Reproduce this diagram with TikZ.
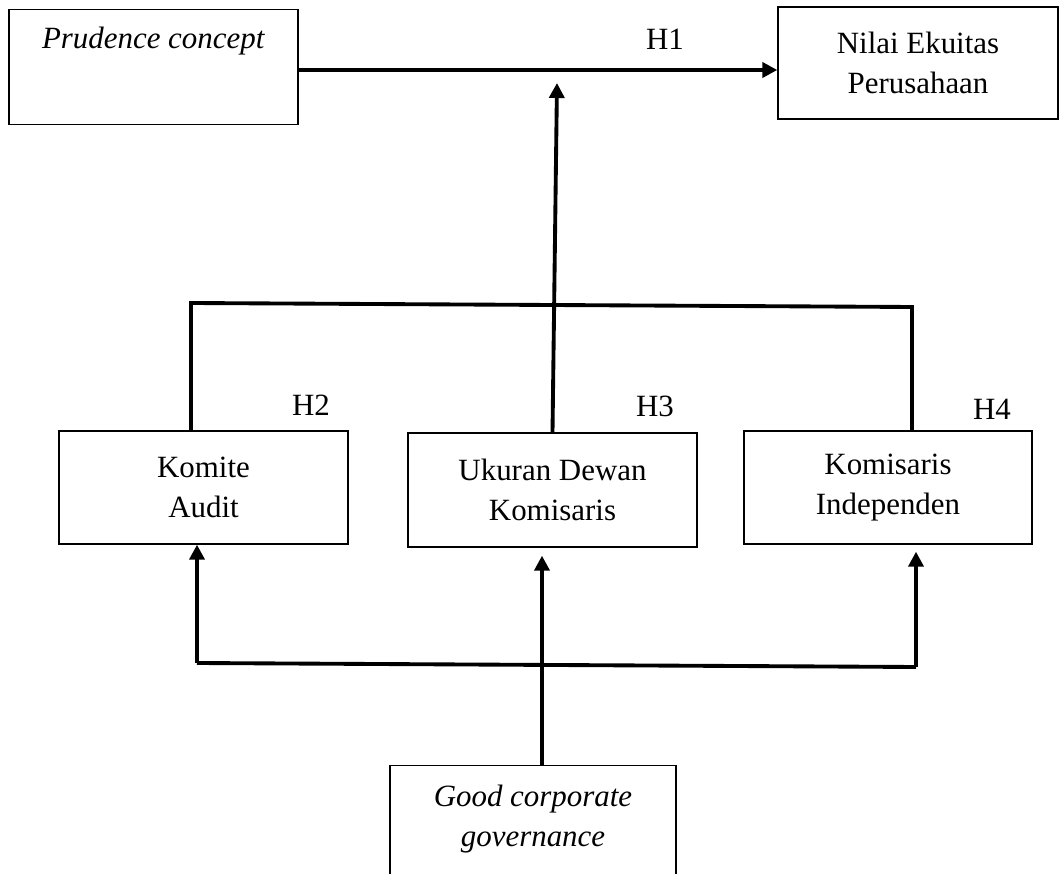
\documentclass[tikz,border=0pt]{standalone}
\usepackage{fontspec}
\setmainfont{Liberation Serif}
\usetikzlibrary{arrows.meta}
\tikzset{
	box/.style={draw, line width=0.8pt, align=center, inner sep=0pt},
	link/.style={line width=2.2pt},
	arr/.style={link, -{Triangle[length=0.3cm,width=0.3cm]}},
}
\begin{document}
\begin{tikzpicture}[x=0.02cm, y=-0.02cm, font=\fontsize{17.6}{22.7}\selectfont]
		\useasboundingbox (0,0) rectangle (1062,874);
		\path
			(153.5,  9)   node[box, anchor=north, minimum width=5.78cm, text height=0.78cm, text depth=1.52cm] (prud)   {\textit{Prudence concept}}
			(918,   63)   node[box, minimum width=5.6cm,  minimum height=2.24cm] (nilai)  {Nilai Ekuitas\\Perusahaan}
			(203.5, 487.5) node[box, minimum width=5.78cm, minimum height=2.26cm] (komite) {Komite\\Audit}
			(552.5, 490)  node[box, minimum width=5.78cm, minimum height=2.28cm] (ukuran) {Ukuran Dewan\\Komisaris}
			(888,   487.5) node[box, minimum width=5.76cm, minimum height=2.26cm] (indep)  {Komisaris\\Independen}
			(533,   765)  node[box, anchor=north, minimum width=5.72cm, inner ysep=0.38cm, text depth=2cm] (gcg) {\textit{Good corporate}\\\textit{governance}}
			(665,   50)   node[anchor=base] (h1) {H1}
			(311,   416)  node[anchor=base] (h2) {H2}
			(655,   417)  node[anchor=base] (h3) {H3}
			(992,   420)  node[anchor=base] (h4) {H4}
		;
		\coordinate (mid)    at (554, 70);
		\coordinate (modtip) at (557, 83);
		\coordinate (busTL)  at (191, 303);
		\coordinate (busTR)  at (912, 307);
		\coordinate (busBL)  at (197, 663);
		\coordinate (busBR)  at (916, 667);
		\coordinate (junc)   at (542, 665);
		\draw[arr]                   (prud.east |- mid)    -- (nilai.west |- mid);
		\draw[arr]                   (ukuran.north)        -- (modtip);
		\draw[link]                  (busTL |- komite.north) -- (busTL) -- (busTR) -- (busTR |- indep.north);
		\draw[link]                  (busBL)               -- (busBR);
		\draw[arr]                   (busBL)               -- (busBL |- komite.south);
		\draw[arr, shorten >=0.14cm] (busBR)               -- (busBR |- indep.south);
		\draw[arr, shorten >=0.16cm] (gcg.north -| junc)   -- (junc |- ukuran.south);
	\end{tikzpicture}
\end{document}
